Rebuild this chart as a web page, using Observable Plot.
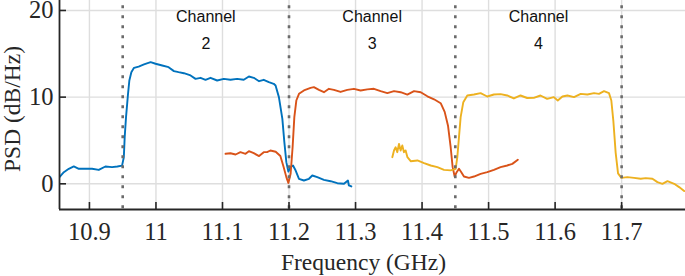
<!DOCTYPE html>
<html><head><meta charset="utf-8">
<script src="https://cdn.jsdelivr.net/npm/d3@7"></script>
<script src="https://cdn.jsdelivr.net/npm/@observablehq/plot@0.6"></script>
<style>body{margin:0;background:#fff}</style>
</head><body><div id="chart"></div>
<script>
const xDomain = [10.855, 11.796];
const yDomain = [-2.965, 21.15];
const xTicks = [10.9, 11, 11.1, 11.2, 11.3, 11.4, 11.5, 11.6, 11.7];
const yTicks = [0, 10, 20];
const channelEdges = [10.95, 11.2, 11.45, 11.7];
const channelNames = ["2", "3", "4"];
const channelCenters = [11.075, 11.325, 11.575];

const ch2Freq = [10.855,10.8615,10.869,10.8765,10.884,10.894,10.904,10.914,10.924,10.934,10.942,10.949,10.9517,10.953,10.955,10.958,10.960,10.963,10.967,10.974,10.982,10.992,10.9994,11.0094,11.019,11.027,11.034,11.042,11.052,11.0595,11.067,11.0745,11.082,11.092,11.102,11.112,11.122,11.132,11.1397,11.147,11.155,11.162,11.1697,11.177,11.1798,11.1848,11.19,11.193,11.196,11.199,11.2024,11.206,11.21,11.215,11.2224,11.23,11.235,11.2425,11.2525,11.2625,11.2726,11.2826,11.2886,11.29,11.2937];
const ch2Psd = [0.77,1.34,1.73,2.0,1.73,1.73,1.73,1.6,2.0,1.92,2.0,2.1,3.07,5.38,7.69,10.38,11.92,12.88,13.38,13.53,13.77,14.04,13.85,13.65,13.46,13.0,12.88,12.76,12.5,12.11,12.23,12.0,12.23,11.92,12.11,12.0,12.11,12.0,12.38,12.23,11.84,12.0,11.73,11.54,11.34,10.0,7.5,4.8,2.5,1.4,1.92,2.11,1.53,0.58,0.38,0.58,0.96,0.77,0.46,0.3,0.07,0,0.38,-0.19,-0.31];

const ch3Freq = [11.1046,11.112,11.1197,11.127,11.1347,11.1397,11.147,11.155,11.162,11.167,11.172,11.18,11.187,11.192,11.196,11.199,11.2024,11.2054,11.208,11.211,11.215,11.2224,11.2324,11.2374,11.245,11.2525,11.26,11.2675,11.2775,11.2876,11.2976,11.3076,11.3177,11.3277,11.3377,11.3478,11.3578,11.3678,11.3779,11.3879,11.398,11.408,11.418,11.428,11.434,11.439,11.443,11.446,11.449,11.452,11.4555,11.459,11.463,11.4705,11.478,11.488,11.498,11.508,11.518,11.528,11.5357,11.544];
const ch3Psd = [3.46,3.53,3.38,3.65,3.46,3.76,3.53,3.2,3.65,3.65,3.84,3.7,3.2,1.92,0.77,0.1,1.15,4.22,7.69,9.61,10.38,10.77,11.07,11.15,10.84,10.57,10.96,10.84,10.6,10.84,10.96,10.77,10.9,10.96,10.69,10.46,10.69,10.57,10.3,10.69,10.57,10.1,9.75,9.3,8.3,6.7,4.22,1.92,0.84,1.34,1.73,1.34,0.84,0.69,0.84,1.15,1.34,1.61,1.92,2.11,2.3,2.77];

const ch4Freq = [11.3553,11.3578,11.3603,11.3628,11.3653,11.3678,11.3703,11.3728,11.3753,11.378,11.3829,11.393,11.403,11.413,11.423,11.433,11.443,11.4505,11.453,11.4555,11.458,11.462,11.468,11.478,11.488,11.498,11.508,11.518,11.528,11.538,11.548,11.558,11.568,11.578,11.588,11.598,11.604,11.611,11.6185,11.6284,11.6385,11.6485,11.6585,11.666,11.6735,11.681,11.6845,11.6875,11.691,11.6946,11.6996,11.7087,11.7187,11.7287,11.7362,11.7463,11.7538,11.7613,11.7689,11.779,11.7864,11.794];
const ch4Psd = [3.07,3.84,4.22,3.65,4.61,3.84,4.42,3.65,3.84,3.07,2.61,2.69,2.38,2.11,1.92,1.61,1.55,1.73,3.07,5.38,7.69,9.42,10.19,10.3,10.46,10.07,10.3,10.35,10.19,9.85,10.19,9.9,9.92,10.19,9.8,10.0,9.61,10.07,10.19,10.0,10.38,10.3,10.46,10.38,10.69,10.46,9.61,7.3,3.6,1.2,0.69,0.77,0.69,0.58,0.65,0.58,0.19,0,0.3,0,-0.38,-0.84];

const toRows = (fs, ps) => fs.map((f, i) => ({f, p: ps[i]}));
const ch2 = toRows(ch2Freq, ch2Psd);
const ch3 = toRows(ch3Freq, ch3Psd);
const ch4 = toRows(ch4Freq, ch4Psd);
const channels = channelNames.map((n, i) => ({n, c: channelCenters[i]}));

const serif = "Liberation Serif";
const sans = "Liberation Sans";
const axisColor = "#262626";

const plot = Plot.plot({
  width: 685, height: 276,
  marginLeft: 59, marginRight: 0, marginTop: 0, marginBottom: 67,
  x: {domain: xDomain, axis: null},
  y: {domain: yDomain, axis: null},
  style: {fontFamily: serif, background: "white", overflow: "visible"},
  marks: [
    Plot.gridX(xTicks, {stroke: "#dedede", strokeOpacity: 1, strokeWidth: 1.4}),
    Plot.gridY(yTicks, {stroke: "#dedede", strokeOpacity: 1, strokeWidth: 1.4}),
    Plot.line(ch2, {x: "f", y: "p", stroke: "#0072BD", strokeWidth: 1.9, clip: true}),
    Plot.line(ch3, {x: "f", y: "p", stroke: "#D95319", strokeWidth: 1.9, clip: true}),
    Plot.line(ch4, {x: "f", y: "p", stroke: "#EDB120", strokeWidth: 1.9, clip: true}),
    Plot.ruleX(channelEdges, {stroke: "#6b6b6b", strokeWidth: 2.6, strokeDasharray: "3,7", strokeDashoffset: 4.8}),
    Plot.text(channels, {x: "c", text: d => `Channel\n${d.n}`, frameAnchor: "top", lineAnchor: "top", textAnchor: "middle", dy: 2, lineHeight: 1.69, fontFamily: sans, fontSize: 16, fill: "#111"}),
    Plot.ruleY([yDomain[0]], {stroke: axisColor, strokeWidth: 1.8}),
    Plot.ruleX([xDomain[0]], {stroke: axisColor, strokeWidth: 1.8}),
    Plot.axisX(xTicks, {tickSize: -7, tickFormat: () => "", label: null, stroke: axisColor, strokeWidth: 1.6}),
    Plot.axisY(yTicks, {tickSize: -7, tickFormat: () => "", label: null, stroke: axisColor, strokeWidth: 1.6}),
    Plot.text(xTicks, {x: d => d, text: d => `${d}`, frameAnchor: "bottom", lineAnchor: "middle", textAnchor: "middle", dy: 22.5, fontFamily: serif, fontSize: 24.5, fill: axisColor}),
    Plot.text(yTicks, {y: d => d, text: d => `${d}`, frameAnchor: "left", lineAnchor: "middle", textAnchor: "end", dx: -6, fontFamily: serif, fontSize: 24.5, fill: axisColor}),
    Plot.text(["Frequency (GHz)"], {frameAnchor: "bottom", lineAnchor: "middle", textAnchor: "middle", dy: 53, dx: -9, fontFamily: serif, fontSize: 23.5, fill: axisColor}),
    Plot.text(["PSD (dB/Hz)"], {frameAnchor: "left", rotate: -90, lineAnchor: "top", textAnchor: "middle", dx: -56, dy: 4, fontFamily: serif, fontSize: 23.5, fill: axisColor})
  ]
});
document.getElementById("chart").appendChild(plot);
</script>
</body></html>
